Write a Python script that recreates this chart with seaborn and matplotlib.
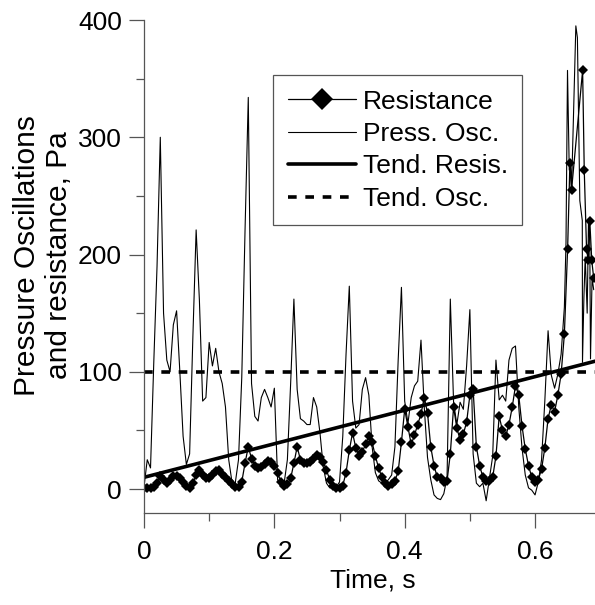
import numpy as np
import pandas as pd
import seaborn as sns
import matplotlib.pyplot as plt
from matplotlib.ticker import MultipleLocator

# ------------------------------------
# Data
# ------------------------------------
# Pressure oscillations, sampled every 5 ms up to 0.645 s
press_base = [
    2, 25, 18, 108, 190, 300, 150, 110, 100, 140,          # 0.000 - 0.045
    152, 100, 45, 21, 30, 130, 221, 161, 75, 78,           # 0.050 - 0.095
    125, 105, 120, 100, 90, 70, 25, 6, 5, 25,              # 0.100 - 0.145
    95, 220, 334, 90, 62, 58, 78, 85, 78, 70,              # 0.150 - 0.195
    86, 8, 2, 5, 25, 90, 162, 85, 60, 58,                  # 0.200 - 0.245
    55, 55, 78, 70, 48, 19, 5, 1, 1, 2,                    # 0.250 - 0.295
    6, 45, 115, 173, 75, 52, 55, 85, 95, 80,               # 0.300 - 0.345
    36, 14, 7, 5, 5, 8, 12, 36, 110, 172,                  # 0.350 - 0.395
    75, 56, 78, 88, 92, 127, 70, 27, 8, -5,                # 0.400 - 0.445
    -8, -9, -4, 10, 162, 74, 55, 74, 68, 105,              # 0.450 - 0.495
    153, 30, 5, 2, 5, -10, 9, 28, 110, 76,                 # 0.500 - 0.545
    80, 75, 110, 120, 122, 70, 35, 12, 1, -1,              # 0.550 - 0.595
    -5, 6, 25, 75, 135, 97, 86, 98, 115, 155,              # 0.600 - 0.645
]
press_tail_t = [0.6475, 0.6498, 0.6525, 0.6545, 0.656, 0.6595, 0.6626, 0.665,
                0.6687, 0.6725, 0.6728, 0.675, 0.677, 0.680, 0.682, 0.684,
                0.6851, 0.6875, 0.690]
press_tail = [210, 357, 272, 278, 255, 330, 395, 385,
              246, 229, 108, 164, 198, 150, 229, 210,
              111, 180, 170]

# Resistance, sampled every 5 ms up to 0.650 s
resis_base = [
    1, 1, 1, 2, 5, 11, 8, 5, 8, 11,                        # 0.000 - 0.045
    11, 9, 6, 3, 1, 5, 12, 16, 12, 9,                      # 0.050 - 0.095
    9, 12, 15, 16, 13, 10, 7, 4, 2, 2,                     # 0.100 - 0.145
    6, 22, 36, 26, 20, 18, 19, 21, 24, 23,                 # 0.150 - 0.195
    20, 14, 6, 3, 4, 9, 22, 36, 25, 22,                    # 0.200 - 0.245
    22, 23, 26, 29, 27, 23, 16, 8, 3, 1,                   # 0.250 - 0.295
    1, 3, 14, 33, 48, 35, 28, 32, 38, 45,                  # 0.300 - 0.345
    40, 28, 18, 10, 5, 3, 4, 7, 15, 40,                    # 0.350 - 0.395
    68, 53, 38, 46, 55, 64, 78, 65, 36, 20,                # 0.400 - 0.445
    10, 9, 6, 7, 30, 70, 52, 42, 47, 57,                   # 0.450 - 0.495
    80, 85, 36, 20, 10, 7, 7, 10, 28, 62,                  # 0.500 - 0.545
    50, 45, 55, 70, 88, 80, 54, 34, 20, 10,                # 0.550 - 0.595
    6, 8, 17, 35, 60, 72, 66, 80, 98, 132,                 # 0.600 - 0.645
    205,                                                   # 0.650
]
resis_tail_t = [0.6535, 0.656, 0.673, 0.6755, 0.679, 0.6815, 0.684, 0.687, 0.690]
resis_tail = [278, 255, 357, 272, 205, 195, 229, 195, 180]

# Trend lines
trend_t = [0.0, 0.692]
trend_resis = [10, 109]
trend_osc = [100, 100]

x_ticks = [0, 0.2, 0.4, 0.6]
x_tick_labels = ["0", "0.2", "0.4", "0.6"]
y_ticks = [0, 100, 200, 300, 400]

press_t = np.concatenate([np.round(np.arange(len(press_base)) * 0.005, 4), press_tail_t])
press_v = np.concatenate([press_base, press_tail])
resis_t = np.concatenate([np.round(np.arange(len(resis_base)) * 0.005, 4), resis_tail_t])
resis_v = np.concatenate([resis_base, resis_tail])

df_press = pd.DataFrame({"t": press_t, "v": press_v})
df_resis = pd.DataFrame({"t": resis_t, "v": resis_v})
df_trend = pd.DataFrame({"t": trend_t, "resis": trend_resis, "osc": trend_osc})

# ------------------------------------
# Style
# ------------------------------------
sns.set_style("ticks")
plt.rcParams["font.family"] = ["Liberation Sans", "DejaVu Sans"]
plt.rcParams["font.size"] = 19
plt.rcParams["text.color"] = "black"
plt.rcParams["axes.labelcolor"] = "black"

fig = plt.figure(figsize=(5.95, 6.05), dpi=100)
ax = fig.add_axes([144 / 595, 92.5 / 605, 451 / 595, 492.5 / 605])

sns.lineplot(data=df_press, x="t", y="v", ax=ax, color="black", linewidth=0.8,
             estimator=None, sort=False, label="Press. Osc.")
sns.lineplot(data=df_resis, x="t", y="v", ax=ax, color="black", linewidth=0.9,
             marker="D", markersize=5.5, markeredgewidth=0, estimator=None,
             sort=False, label="Resistance")
sns.lineplot(data=df_trend, x="t", y="resis", ax=ax, color="black", linewidth=2.6,
             estimator=None, label="Tend. Resis.")
sns.lineplot(data=df_trend, x="t", y="osc", ax=ax, color="black", linewidth=2.6,
             estimator=None, label="Tend. Osc.")
ax.lines[-1].set_dashes([2.4, 2.4])

ax.set_xlim(0, 0.692)
ax.set_ylim(-20, 400)
ax.set_xticks(x_ticks)
ax.set_xticklabels(x_tick_labels)
ax.set_yticks(y_ticks)
ax.xaxis.set_minor_locator(MultipleLocator(0.1))
ax.yaxis.set_minor_locator(MultipleLocator(50))
ax.tick_params(which="major", direction="out", length=11, width=0.9,
               color="#555555", labelcolor="black", labelsize=19)
ax.tick_params(axis="x", which="major", pad=9)
ax.tick_params(axis="y", which="major", pad=5)
ax.tick_params(which="minor", direction="out", length=5.5, width=0.9, color="#555555")

sns.despine(ax=ax, top=True, right=True)
for side in ["left", "bottom"]:
    ax.spines[side].set_color("#555555")
    ax.spines[side].set_linewidth(0.9)

ax.set_xlabel("Time, s", fontsize=19)
ax.set_ylabel("Pressure Oscillations\nand resistance, Pa", fontsize=21.5, linespacing=1.2)
ax.xaxis.set_label_coords(0.507, -0.113)
ax.yaxis.set_label_coords(-0.157, 0.522)

handles, labels = ax.get_legend_handles_labels()
order = [labels.index(k) for k in ["Resistance", "Press. Osc.", "Tend. Resis.", "Tend. Osc."]]
leg = ax.legend([handles[i] for i in order], [labels[i] for i in order],
                loc="upper left", bbox_to_anchor=(273 / 595, 1 - 75 / 605),
                bbox_transform=fig.transFigure, fontsize=19, frameon=True,
                fancybox=False, framealpha=1, edgecolor="#555555",
                handlelength=2.6, handletextpad=0.25, labelspacing=0.32,
                borderpad=0.55, borderaxespad=0, markerscale=2.0)
leg.get_frame().set_linewidth(0.9)

fig.savefig("out.png", dpi=100)
